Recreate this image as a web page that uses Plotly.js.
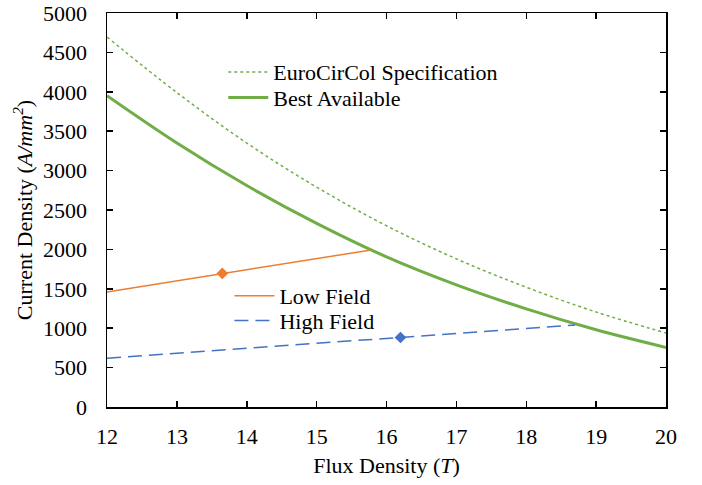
<!DOCTYPE html>
<html>
<head>
<meta charset="utf-8">
<script src="https://cdn.plot.ly/plotly-3.0.1.min.js"></script>
<style>html,body{margin:0;padding:0;background:#fff;}#chart{width:702px;height:485px;}</style>
</head>
<body>
<div id="chart"></div>
<script>
const fluxX = [12, 13, 14, 15, 16, 17, 18, 19, 20];
const specY = [4695, 3990, 3350, 2790, 2300, 1880, 1520, 1205, 940];
const bestY = [3950, 3350, 2810, 2330, 1905, 1550, 1245, 980, 756];
const lowX = [12, 13.65, 15.76];
const lowY = [1460, 1695, 1990];
const highX = [12, 16.2, 18.7];
const highY = [620, 882, 1040];
const lowMarkX = [13.65], lowMarkY = [1695];
const highMarkX = [16.2], highMarkY = [882];

const GREEN = '#70AD47', ORANGE = '#ED7D31', BLUE = '#4472C4';
const FONT = 'Liberation Serif';
const FS = 22;

const traces = [
  {x: fluxX, y: specY, mode: 'lines', name: 'EuroCirCol Specification',
   line: {color: GREEN, width: 1.5, dash: 'dot', shape: 'spline'}, legend: 'legend'},
  {x: fluxX, y: bestY, mode: 'lines', name: 'Best Available',
   line: {color: GREEN, width: 3, shape: 'spline'}, legend: 'legend2'},
  {x: lowX, y: lowY, mode: 'lines', name: 'Low Field',
   line: {color: ORANGE, width: 1.5}, legend: 'legend3'},
  {x: highX, y: highY, mode: 'lines', name: 'High Field',
   line: {color: BLUE, width: 1.5, dash: '14px,7px'}, legend: 'legend4'},
  {x: lowMarkX, y: lowMarkY, mode: 'markers', showlegend: false,
   marker: {symbol: 'diamond', color: ORANGE, size: 9}},
  {x: highMarkX, y: highMarkY, mode: 'markers', showlegend: false,
   marker: {symbol: 'diamond', color: BLUE, size: 9}}
];

const axisCommon = {
  showline: true, linecolor: '#000', linewidth: 1.5, mirror: 'ticks',
  ticks: 'inside', ticklen: 6, tickwidth: 1.5, tickcolor: '#000',
  showgrid: false, zeroline: false,
  tickfont: {family: FONT, size: FS, color: '#000'}
};

function leg(x, y) {
  return {x: x, y: y, xanchor: 'left', yanchor: 'middle', bgcolor: 'rgba(0,0,0,0)',
          font: {family: FONT, size: FS, color: '#000'}, itemwidth: 40};
}

const layout = {
  width: 702, height: 485,
  margin: {l: 107, r: 36, t: 13, b: 78},
  paper_bgcolor: '#fff', plot_bgcolor: '#fff',
  font: {family: FONT, size: FS, color: '#000'},
  showlegend: true,
  xaxis: Object.assign({}, axisCommon, {
    range: [12, 20], dtick: 1, tick0: 12,
    ticklabelstandoff: 9,
    title: {text: 'Flux Density (<i>T</i>)', font: {family: FONT, size: FS, color: '#000'}, standoff: 9}
  }),
  yaxis: Object.assign({}, axisCommon, {
    range: [0, 5000], dtick: 500, tick0: 0,
    ticklabelstandoff: 14,
    title: {text: 'Current Density (<i>A/mm<sup>2</sup></i>)', font: {family: FONT, size: FS, color: '#000'}, standoff: 4}
  }),
  legend: leg(0.208, 0.85),
  legend2: leg(0.208, 0.785),
  legend3: leg(0.219, 0.282),
  legend4: leg(0.219, 0.219)
};

Plotly.newPlot('chart', traces, layout, {displayModeBar: false, staticPlot: true});
</script>
</body>
</html>
